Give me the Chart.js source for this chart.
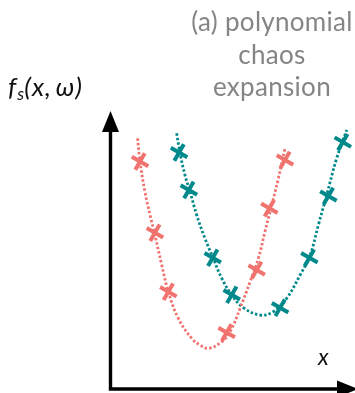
<!DOCTYPE html>
<html>
<head>
<meta charset="utf-8">
<script src="https://cdn.jsdelivr.net/npm/chart.js@4/dist/chart.umd.min.js"></script>
<style>
  html, body { margin: 0; padding: 0; background: #fff; }
  #wrap { position: relative; width: 355px; height: 393px; overflow: hidden; }
  #wrap canvas { position: absolute; left: 0; top: 0; }
  .lbl { position: absolute; white-space: nowrap; font-family: Lato, "DejaVu Sans", sans-serif; }
  #title { left: 172px; width: 200px; top: 5px; text-align: center; color: #858585; font-size: 26px; line-height: 32.5px; letter-spacing: 0.3px; }
  #ylab { left: 8px; top: 70px; font-size: 26px; color: #111; font-style: italic; letter-spacing: 1px; }
  #ylab sub { font-size: 17px; vertical-align: -4px; letter-spacing: 0; }
  #xlab { left: 318px; top: 342px; font-size: 23px; color: #111; font-style: italic; }
</style>
</head>
<body>
<div id="wrap">
  <canvas id="c" width="355" height="393"></canvas>
  <div class="lbl" id="title">(a) polynomial<br>chaos<br>expansion</div>
  <div class="lbl" id="ylab">f<sub>s</sub>(x,&thinsp;ω)</div>
  <div class="lbl" id="xlab">x</div>
</div>
<script>
// Sample realisation 1 (red): noisy observations and its smooth expansion
const redSampleX = [1.19, 1.80, 2.35, 4.74, 5.97, 6.49, 7.13];
const redSampleY = [8.18, 5.62, 3.50, 2.03, 4.28, 6.50, 8.24];
const redCurveX = [1.09, 1.19, 1.39, 1.60, 1.80, 2.08, 2.35, 2.76, 3.31, 3.65, 3.99, 4.54, 4.88, 5.29, 5.70, 6.04, 6.31, 6.59, 6.86, 7.13];
const redCurveY = [9.02, 8.18, 7.10, 6.26, 5.54, 4.46, 3.50, 2.54, 1.82, 1.58, 1.46, 1.70, 2.06, 2.90, 3.86, 4.70, 5.66, 6.62, 7.58, 8.66];

// Sample realisation 2 (teal)
const tealSampleX = [2.79, 3.19, 4.17, 4.95, 6.93, 8.13, 8.91, 9.50];
const tealSampleY = [8.51, 7.16, 4.72, 3.39, 2.92, 4.72, 6.94, 8.88];
const tealCurveX = [2.69, 2.83, 3.03, 3.24, 3.51, 3.85, 4.19, 4.54, 4.95, 5.42, 6.11, 6.65, 7.20, 7.75, 8.16, 8.50, 8.84, 9.25, 9.66];
const tealCurveY = [9.20, 8.48, 7.70, 7.10, 6.26, 5.42, 4.70, 3.98, 3.38, 2.93, 2.66, 2.78, 3.26, 4.10, 4.82, 5.90, 6.98, 8.30, 9.32];

const RED = '#f07370';
const TEAL = '#00898a';

const pts = (xs, ys) => xs.map((x, i) => ({ x: x, y: ys[i] }));

// Axes drawn as arrows along the left and bottom edges of the plot area
const arrowAxes = {
  id: 'arrowAxes',
  afterDraw(chart) {
    const { ctx, chartArea: a } = chart;
    const x0 = a.left - 0.5, y0 = a.bottom;
    ctx.save();
    ctx.strokeStyle = '#000';
    ctx.fillStyle = '#000';
    ctx.lineWidth = 3.4;
    ctx.lineCap = 'butt';
    ctx.beginPath();
    ctx.moveTo(x0, y0 + 1.7);
    ctx.lineTo(x0, a.top + 15);
    ctx.moveTo(x0 - 1.7, y0);
    ctx.lineTo(a.right - 14, y0);
    ctx.stroke();
    // vertical arrow head
    ctx.beginPath();
    ctx.moveTo(x0, a.top);
    ctx.lineTo(x0 - 8.5, a.top + 21);
    ctx.lineTo(x0 + 8.5, a.top + 21);
    ctx.closePath();
    ctx.fill();
    // horizontal arrow head
    ctx.beginPath();
    ctx.moveTo(a.right + 3, y0);
    ctx.lineTo(a.right - 18, y0 - 8.5);
    ctx.lineTo(a.right - 18, y0 + 8.5);
    ctx.closePath();
    ctx.fill();
    ctx.restore();
  }
};

const curveStyle = (color) => ({
  type: 'line',
  borderColor: color,
  borderWidth: 2.8,
  borderDash: [2.5, 2.1],
  borderCapStyle: 'butt',
  pointRadius: 0,
  tension: 0.4,
  fill: false,
  clip: false
});

const crossStyle = (color) => ({
  type: 'scatter',
  borderColor: color,
  backgroundColor: color,
  borderWidth: 4,
  pointStyle: 'cross',
  rotation: 30,
  pointRadius: 9.5,
  pointHoverRadius: 9.5,
  clip: false
});

new Chart(document.getElementById('c'), {
  type: 'scatter',
  data: {
    datasets: [
      Object.assign({ label: 'red expansion', data: pts(redCurveX, redCurveY) }, curveStyle(RED)),
      Object.assign({ label: 'teal expansion', data: pts(tealCurveX, tealCurveY) }, curveStyle(TEAL)),
      Object.assign({ label: 'red samples', data: pts(redSampleX, redSampleY) }, crossStyle(RED)),
      Object.assign({ label: 'teal samples', data: pts(tealSampleX, tealSampleY) }, crossStyle(TEAL))
    ]
  },
  options: {
    responsive: false,
    animation: false,
    events: [],
    layout: { autoPadding: false, padding: { left: 111, top: 111, right: 0, bottom: 4 } },
    plugins: { legend: { display: false }, tooltip: { enabled: false } },
    scales: {
      x: { type: 'linear', min: 0, max: 10, display: false },
      y: { type: 'linear', min: 0, max: 10, display: false }
    }
  },
  plugins: [arrowAxes]
});
</script>
</body>
</html>
